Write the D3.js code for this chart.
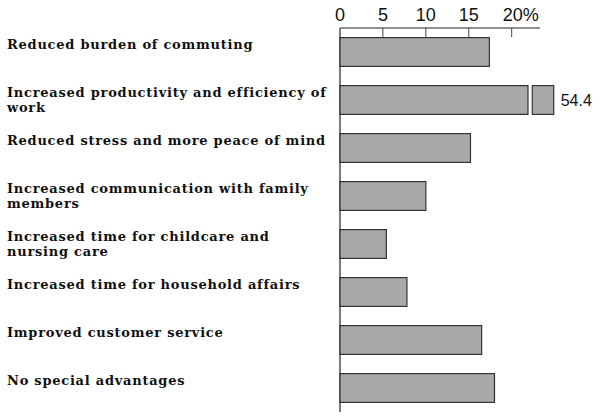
<!DOCTYPE html>
<head>
  <meta charset="utf-8">
  <title>Advantages of telework</title>
  <script src="https://d3js.org/d3.v7.min.js"></script>
  <style>
    body { margin: 0px; background: #fff; }
    .label { font-family: "DejaVu Serif", serif; font-size: 13px; font-weight: bold; letter-spacing: 0.75px; fill: #111; }
    .tick-label { font-family: "Liberation Sans", Arial, sans-serif; font-size: 18px; fill: #111; }
    .bar { fill: #a9a9a9; stroke: #333; stroke-width: 1.2; }
  </style>
</head>
<body>
  <svg width="600" height="420"></svg>
  <script>
    // data
    var categories = [
      ["Reduced burden of commuting"],
      ["Increased productivity and efficiency of", "work"],
      ["Reduced stress and more peace of mind"],
      ["Increased communication with family", "members"],
      ["Increased time for childcare and", "nursing care"],
      ["Increased time for household affairs"],
      ["Improved customer service"],
      ["No special advantages"]
    ];
    var values = [17.4, 54.4, 15.2, 10.0, 5.4, 7.8, 16.5, 18.0];
    var ticks = [0, 5, 10, 15, 20];
    var tickLabels = ["0", "5", "10", "15", "20%"];
    var axisMax = 23.3;     // axis line stops here
    var breakAt = 21.9;     // long bar is cut here ...
    var breakStub = [22.4, 24.9]; // ... and shown as a short stub

    var svg = d3.select("svg");
    var x = d3.scaleLinear().domain([0, axisMax]).range([340, 540]);
    var y = d3.scaleBand()
      .domain(d3.range(values.length))
      .range([28, 412])
      .paddingInner(0.4)
      .paddingOuter(0.2);

    // axis
    var axis = svg.append("g");
    axis.append("line")
      .attr("x1", x(0)).attr("x2", x(axisMax))
      .attr("y1", 28).attr("y2", 28)
      .attr("stroke", "#222").attr("stroke-width", 1);
    axis.append("line")
      .attr("x1", x(0)).attr("x2", x(0))
      .attr("y1", 28).attr("y2", 412)
      .attr("stroke", "#222").attr("stroke-width", 1.2);
    axis.selectAll(".tk")
      .data(ticks.slice(1))
      .enter().append("line")
      .attr("x1", function(d) { return x(d); })
      .attr("x2", function(d) { return x(d); })
      .attr("y1", 28).attr("y2", 37)
      .attr("stroke", "#444").attr("stroke-width", 1);
    axis.selectAll(".tick-label")
      .data(ticks)
      .enter().append("text")
      .attr("class", "tick-label")
      .attr("x", function(d) { return x(d); })
      .attr("y", 21)
      .attr("text-anchor", function(d, i) { return i == ticks.length - 1 ? "start" : "middle"; })
      .attr("dx", function(d, i) { return i == ticks.length - 1 ? -9 : 0; })
      .text(function(d, i) { return tickLabels[i]; });

    // bars
    var bars = svg.append("g");
    bars.selectAll(".bar")
      .data(values)
      .enter().append("rect")
      .attr("class", "bar")
      .attr("x", x(0))
      .attr("y", function(d, i) { return y(i); })
      .attr("width", function(d) { return x(Math.min(d, breakAt)) - x(0); })
      .attr("height", y.bandwidth());

    // stub for the bar that runs off the scale
    values.forEach(function(d, i) {
      if (d > axisMax) {
        bars.append("rect")
          .attr("class", "bar")
          .attr("x", x(breakStub[0]))
          .attr("y", y(i))
          .attr("width", x(breakStub[1]) - x(breakStub[0]))
          .attr("height", y.bandwidth());
        bars.append("text")
          .attr("class", "tick-label")
          .style("font-size", "16px")
          .attr("x", x(breakStub[1]) + 7)
          .attr("y", y(i) + y.bandwidth() / 2 + 6)
          .text(d3.format(".1f")(d));
      }
    });

    // category labels
    var labels = svg.append("g");
    categories.forEach(function(lines, i) {
      var t = labels.append("text")
        .attr("class", "label")
        .attr("x", 7)
        .attr("y", y(i) + 11);
      lines.forEach(function(l, j) {
        t.append("tspan")
          .attr("x", 7)
          .attr("dy", j == 0 ? 0 : 15)
          .text(l);
      });
    });
  </script>
</body>
</html>
